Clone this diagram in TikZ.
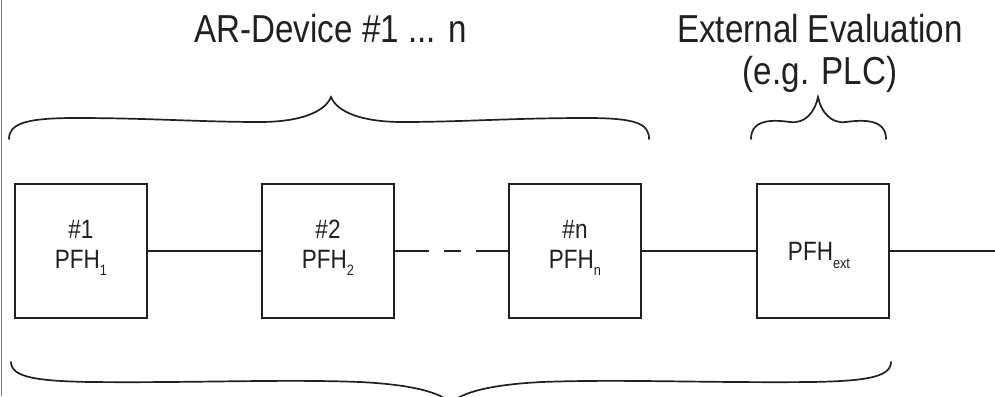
\documentclass[tikz,border=0pt]{standalone}
\usepackage{fontspec}
\setmainfont[FakeStretch=0.85]{Liberation Sans}
\definecolor{ink}{HTML}{231F20}
\newcommand{\sbs}[2][7pt]{\raisebox{-#1}{\fontsize{15pt}{15pt}\selectfont #2}}
\begin{document}
\begin{tikzpicture}[x=1pt,y=-1pt,
  box/.style={draw=ink, line width=2pt, minimum width=132pt, minimum height=134pt, inner sep=0pt},
  boxtxt/.style={font=\fontsize{26.5pt}{30pt}\selectfont, text=ink, inner sep=0pt, anchor=base},
  ttl/.style={font=\fontsize{39pt}{46pt}\selectfont, text=ink, inner sep=0pt, anchor=base},
  conn/.style={draw=ink, line width=2pt},
  brace/.style={draw=ink, line width=1.7pt, line cap=round}]
\useasboundingbox (0,0) rectangle (995,396);
\clip (0,0) rectangle (995,396);
% left border line
\draw[gray, line width=1pt] (1.5,0) -- (1.5,396);
% titles
\node[ttl] (t1) at (330.5,42) {AR-Device \#1 ... n};
\node[ttl] (t2) at (820,42) {External Evaluation};
\node[ttl] (t3) at (820,84) {(e.g. PLC)};
% boxes
\node[box] (b1) at (81,251) {};
\node[box] (b2) at (328,251) {};
\node[box] (bn) at (575,251) {};
\node[box] (be) at (823,251) {};
\coordinate (endr) at (995,251);
% box texts
\node[boxtxt] (h1) at ([yshift=13pt]b1.center) {\#1};
\node[boxtxt] (p1) at ([yshift=-17pt]b1.center) {PFH\sbs{1}};
\node[boxtxt] (h2) at ([yshift=13pt]b2.center) {\#2};
\node[boxtxt] (p2) at ([yshift=-17pt]b2.center) {PFH\sbs{2}};
\node[boxtxt] (hn) at ([yshift=13pt]bn.center) {\#n};
\node[boxtxt] (pn) at ([yshift=-17pt]bn.center) {PFH\sbs{n}};
\node[boxtxt] (pe) at ([xshift=-4pt,yshift=-9pt]be.center) {PFH\sbs[8pt]{ext}};
% connectors
\draw[conn] (b1.east) -- (b2.west);
\draw[conn, dash pattern=on 34pt off 15pt on 17pt off 15pt on 34pt] (b2.east) -- (bn.west);
\draw[conn] (bn.east) -- (be.west);
\draw[conn] (be.east) -- (endr);
% top big brace
\draw[brace] (9,139) .. controls (9,124) and (25,118) .. (75,118)
  .. controls (150,118) and (200,122) .. (260,122)
  .. controls (300,122) and (325,112) .. (331,97)
  .. controls (337,112) and (362,122) .. (402,122)
  .. controls (462,122) and (512,118) .. (587,118)
  .. controls (637,118) and (649,124) .. (649,139);
% small brace
\draw[brace] (751,139) .. controls (751,118) and (775,120) .. (790,122)
  .. controls (805,124) and (815,112) .. (818,97)
  .. controls (821,112) and (831,124) .. (846,122)
  .. controls (861,120) and (886,118) .. (886,139);
% bottom brace
\draw[brace] (11,362) .. controls (11,378) and (40,381) .. (90,382)
  .. controls (200,383) and (280,379) .. (360,382)
  .. controls (420,385) and (445,395) .. (451,404)
  .. controls (457,395) and (482,385) .. (542,382)
  .. controls (622,379) and (702,383) .. (812,382)
  .. controls (862,381) and (891,378) .. (891,362);
\end{tikzpicture}
\end{document}
